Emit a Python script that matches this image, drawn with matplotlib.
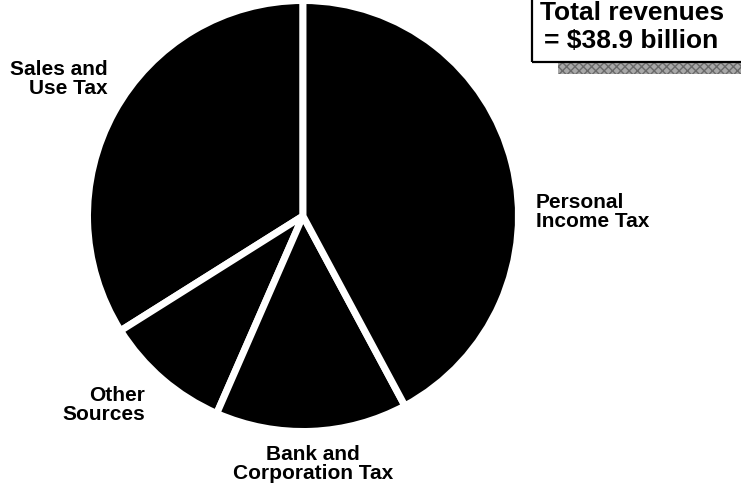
import matplotlib
matplotlib.use("Agg")
import matplotlib.pyplot as plt
from matplotlib.patches import Rectangle

plt.rcParams['font.family'] = ['Liberation Sans', 'DejaVu Sans']

# revenue sources, billions of dollars (counterclockwise from 12 o'clock)
sources = ["Sales and\nUse Tax", "Other\nSources", "Bank and\nCorporation Tax", "Personal\nIncome Tax"]
revenue = [13.2, 3.7, 5.6, 16.4]
total_label = ["Total revenues", "= $38.9 billion"]

W, H = 741, 491
fig = plt.figure(figsize=(W / 100, H / 100), dpi=100)
fig.patch.set_facecolor("white")

# pie: center (303, 216) px, radius 212 px
cx, cy, r = 303, 216, 212
ax = fig.add_axes([(cx - r) / W, (H - cy - r) / H, 2 * r / W, 2 * r / H])
gap = 5.0  # pt, white separator
ax.pie(revenue, startangle=90, counterclock=True, colors=["black"] * len(revenue),
       radius=1 + (gap * 100 / 72 / 2) / r,
       wedgeprops=dict(edgecolor="white", linewidth=gap, joinstyle="miter"))
ax.set_xlim(-1, 1)
ax.set_ylim(-1, 1)
ax.set_aspect("equal")
ax.axis("off")

# overlay in pixel coordinates for labels and the total box
ov = fig.add_axes([0, 0, 1, 1], facecolor="none")
ov.set_xlim(0, W)
ov.set_ylim(H, 0)
ov.axis("off")

lab = dict(fontsize=15, fontweight="bold", linespacing=1.0, va="center")
ov.text(108, 79, sources[0], ha="right", multialignment="right", **lab)
ov.text(145, 405, sources[1], ha="right", multialignment="right", **lab)
ov.text(313, 464, sources[2], ha="center", multialignment="center", **lab)
ov.text(536, 212, sources[3], ha="left", multialignment="left", **lab)

# total box with shaded drop shadow
ov.add_patch(Rectangle((558, 63), W - 558, 11, facecolor="#a8a8a8", edgecolor="#6a6a6a",
                       hatch="xxxx", linewidth=0))
ov.plot([532, 532], [-5, 62], color="black", lw=1.6, solid_capstyle="butt")
ov.plot([532, W + 5], [62, 62], color="black", lw=1.6, solid_capstyle="butt")
ov.text(540, 20, total_label[0], fontsize=19, fontweight="bold", va="baseline", ha="left")
ov.text(544, 48, total_label[1], fontsize=19, fontweight="bold", va="baseline", ha="left")

fig.savefig("out.png", dpi=100, facecolor="white")
